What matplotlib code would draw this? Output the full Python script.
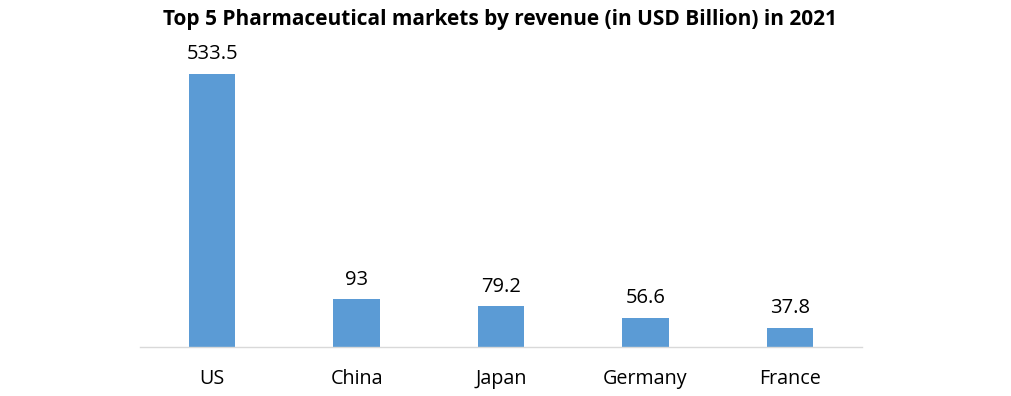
import matplotlib.pyplot as plt
import numpy as np

countries = ["US", "China", "Japan", "Germany", "France"]
revenue = [533.5, 93, 79.2, 56.6, 37.8]
labels = ["533.5", "93", "79.2", "56.6", "37.8"]

plt.rcParams['font.family'] = ['Open Sans', 'DejaVu Sans']

fig = plt.figure(figsize=(10.12, 3.96), dpi=100)
# axes placed in pixel terms: x 140..862, baseline y=347, top y=40
ax = fig.add_axes([140 / 1012, (396 - 347) / 396, 722 / 1012, 307 / 396])

x = np.arange(len(countries))
ax.bar(x, revenue, width=0.32, color="#5b9bd5")

for xi, v, t in zip(x, revenue, labels):
    ax.annotate(t, (xi, v), xytext=(0, 7), textcoords="offset points",
                ha="center", va="bottom", fontsize=14.5, color="#000000")

ax.set_xlim(-0.5, len(countries) - 0.5)
ax.set_ylim(0, 600)
ax.set_xticks(x)
ax.set_xticklabels(countries, fontsize=14.2)
ax.tick_params(axis="x", length=0, pad=16)
ax.set_yticks([])

for side in ["top", "right", "left"]:
    ax.spines[side].set_visible(False)
ax.spines["bottom"].set_color("#d9d9d9")
ax.spines["bottom"].set_linewidth(1)

fig.text(0.494, 0.95, "Top 5 Pharmaceutical markets by revenue (in USD Billion) in 2021",
         ha="center", va="center", fontsize=15, fontweight="bold")

fig.savefig("out.png", dpi=100)
